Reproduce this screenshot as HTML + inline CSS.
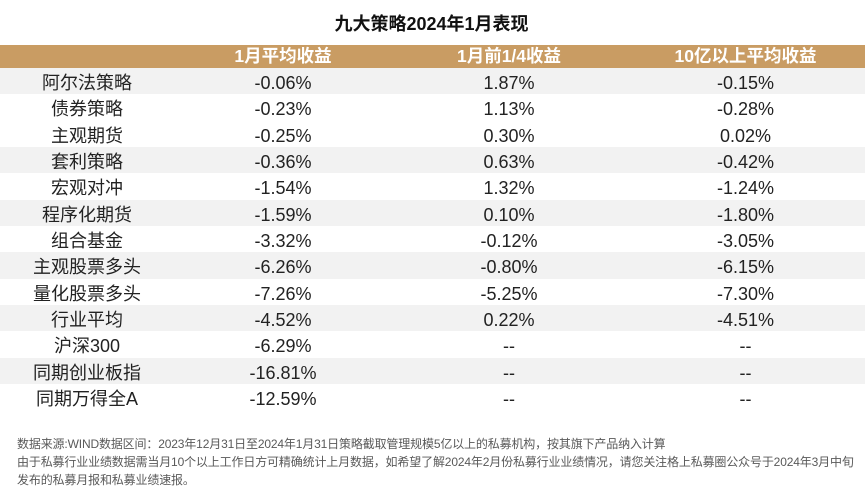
<!DOCTYPE html>
<html>
<head>
<meta charset="utf-8">
<style>
  html, body { margin:0; padding:0; background:#ffffff; }
  body { width:865px; height:495px; position:relative; overflow:hidden;
         font-family:"Liberation Sans","Noto Sans CJK SC","Microsoft YaHei",sans-serif; }
  .title { position:absolute; left:0; top:13px; width:863px; height:22px; line-height:22px;
           text-align:center; font-size:18px; font-weight:bold; color:#111; }
  .hdr { position:absolute; left:0; top:45px; width:865px; height:23px; background:#C99C63; }
  .row { position:absolute; left:0; width:865px; height:26.33px; }
  .g { background:#F2F2F2; }
  .c { position:absolute; top:0; height:100%; text-align:center; white-space:nowrap; }
  .c1 { left:0; width:174px; }
  .c2 { left:174px; width:218px; }
  .c3 { left:392px; width:234px; }
  .c4 { left:626px; width:239px; }
  .hdr .c { line-height:23px; font-size:17.5px; font-weight:bold; color:#fff; }
  .row .c { line-height:26.33px; padding-top:2px; box-sizing:border-box; font-size:18px; color:#222; }
  .foot { position:absolute; left:17px; font-size:12px; color:#595959; letter-spacing:-0.15px;
          white-space:nowrap; height:18px; line-height:18px; }
</style>
</head>
<body>
<div class="title">九大策略2024年1月表现</div>

<div class="hdr">
  <div class="c c2">1月平均收益</div>
  <div class="c c3">1月前1/4收益</div>
  <div class="c c4">10亿以上平均收益</div>
</div>

<div class="row g" style="top:68px"><div class="c c1">阿尔法策略</div><div class="c c2">-0.06%</div><div class="c c3">1.87%</div><div class="c c4">-0.15%</div></div>
<div class="row" style="top:94.33px"><div class="c c1">债券策略</div><div class="c c2">-0.23%</div><div class="c c3">1.13%</div><div class="c c4">-0.28%</div></div>
<div class="row" style="top:120.66px"><div class="c c1">主观期货</div><div class="c c2">-0.25%</div><div class="c c3">0.30%</div><div class="c c4">0.02%</div></div>
<div class="row g" style="top:147px"><div class="c c1">套利策略</div><div class="c c2">-0.36%</div><div class="c c3">0.63%</div><div class="c c4">-0.42%</div></div>
<div class="row" style="top:173.33px"><div class="c c1">宏观对冲</div><div class="c c2">-1.54%</div><div class="c c3">1.32%</div><div class="c c4">-1.24%</div></div>
<div class="row g" style="top:199.66px"><div class="c c1">程序化期货</div><div class="c c2">-1.59%</div><div class="c c3">0.10%</div><div class="c c4">-1.80%</div></div>
<div class="row" style="top:226px"><div class="c c1">组合基金</div><div class="c c2">-3.32%</div><div class="c c3">-0.12%</div><div class="c c4">-3.05%</div></div>
<div class="row g" style="top:252.33px"><div class="c c1">主观股票多头</div><div class="c c2">-6.26%</div><div class="c c3">-0.80%</div><div class="c c4">-6.15%</div></div>
<div class="row" style="top:278.66px"><div class="c c1">量化股票多头</div><div class="c c2">-7.26%</div><div class="c c3">-5.25%</div><div class="c c4">-7.30%</div></div>
<div class="row g" style="top:305px"><div class="c c1">行业平均</div><div class="c c2">-4.52%</div><div class="c c3">0.22%</div><div class="c c4">-4.51%</div></div>
<div class="row" style="top:331.33px"><div class="c c1">沪深300</div><div class="c c2">-6.29%</div><div class="c c3">--</div><div class="c c4">--</div></div>
<div class="row g" style="top:357.66px"><div class="c c1">同期创业板指</div><div class="c c2">-16.81%</div><div class="c c3">--</div><div class="c c4">--</div></div>
<div class="row" style="top:384px"><div class="c c1">同期万得全A</div><div class="c c2">-12.59%</div><div class="c c3">--</div><div class="c c4">--</div></div>

<div class="foot" style="top:434.5px">数据来源:WIND数据区间：2023年12月31日至2024年1月31日策略截取管理规模5亿以上的私募机构，按其旗下产品纳入计算</div>
<div class="foot" style="top:452.8px">由于私募行业业绩数据需当月10个以上工作日方可精确统计上月数据，如希望了解2024年2月份私募行业业绩情况，请您关注格上私募圈公众号于2024年3月中旬</div>
<div class="foot" style="top:471px">发布的私募月报和私募业绩速报。</div>
</body>
</html>
